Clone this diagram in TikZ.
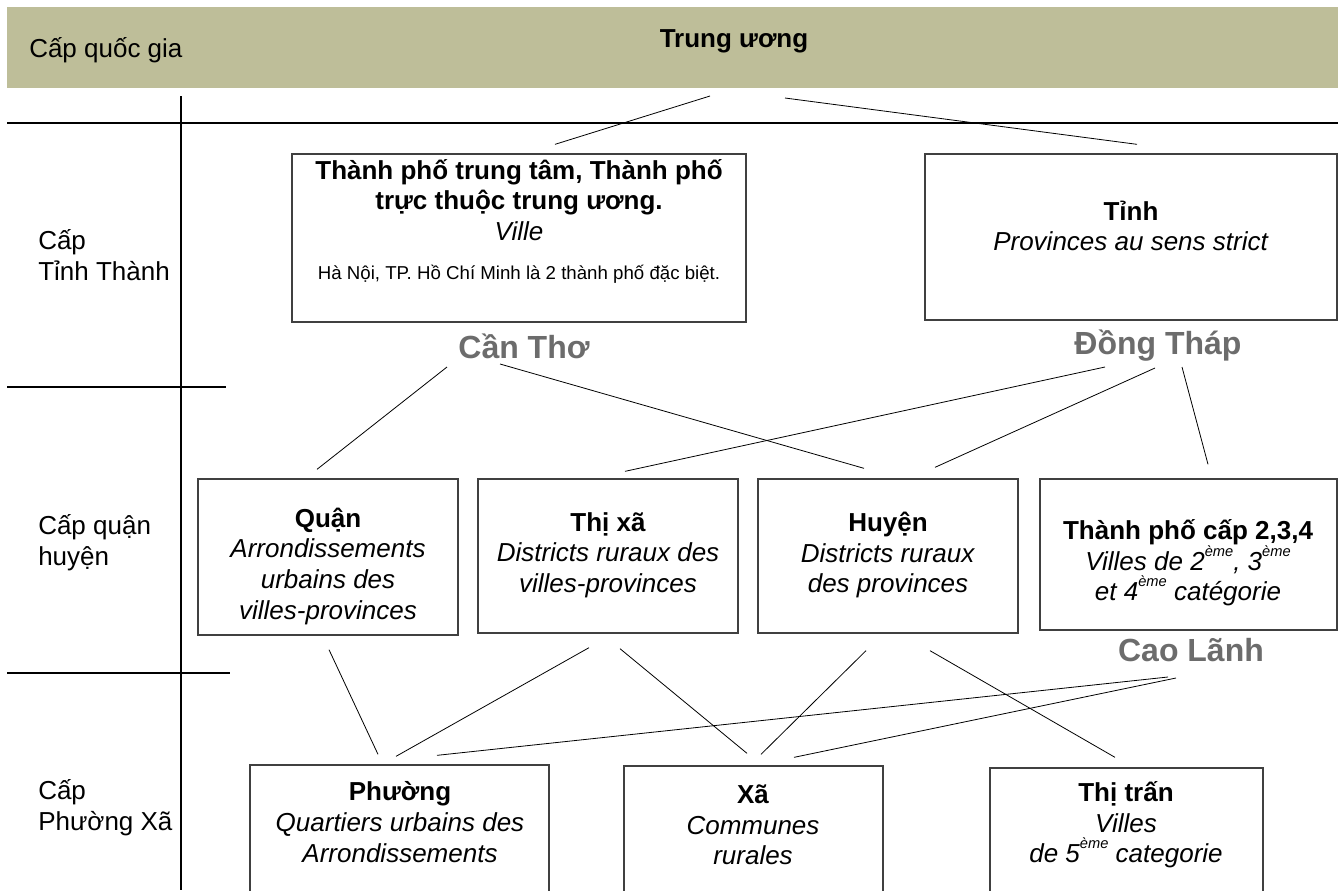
\documentclass[tikz,border=0pt]{standalone}
\usepackage{fontspec}
\setmainfont{Liberation Sans}
\usetikzlibrary{fit,calc}

\definecolor{band}{RGB}{190,190,153}
\definecolor{cityname}{RGB}{108,108,108}
\newcommand{\eme}{\raisebox{0.55em}{\fontsize{11}{11}\selectfont ème}}

\tikzset{
    lvl/.style={font=\fontsize{19.5}{23}\selectfont, align=left, anchor=west, inner sep=0pt},
    txt/.style={font=\fontsize{19.5}{23}\selectfont, align=center, inner sep=0pt},
    admin/.style={draw=black!75, line width=1pt, inner sep=0pt},
    city/.style={font=\fontsize{24}{28}\selectfont\bfseries, text=cityname, inner sep=0pt},
    link/.style={draw, line width=0.6pt},
    divider/.style={line width=1.6pt}
}

\begin{document}
\begin{tikzpicture}[x=0.75pt,y=-0.75pt]
        \useasboundingbox (0,0) rectangle (1338,890);
        \clip (0,0) rectangle (1338,890);
        % bandeau
        \node[fill=band, inner sep=0pt, fit={(7,7) (1338,88)}] (hdr) {};
        \node[lvl] (lv0) at (29,50) {Cấp quốc gia};
        \node[txt] (tu) at (734,41) {\textbf{Trung ương}};
        % lignes
        \draw[divider] (181,96) -- (181,890);
        \draw[divider] (7,123) -- (1338,123);
        \draw[divider] (7,387) -- (226,387);
        \draw[divider] (7,673) -- (230,673);
        % niveaux
        \node[lvl] (lv1) at (38,255) {Cấp\\Tỉnh Thành};
        \node[lvl] (lv2) at (38,543) {Cấp quận\\huyện};
        \node[lvl] (lv3) at (38,808) {Cấp\\Phường Xã};
        % cadres
        \node[admin, fit={(292,154) (746,322)}] (tp) {};
        \node[admin, fit={(925,154) (1337,320)}] (tinh) {};
        \node[admin, fit={(198,479) (458,635)}] (quan) {};
        \node[admin, fit={(478,479) (738,633)}] (tx) {};
        \node[admin, fit={(758,479) (1018,633)}] (hx) {};
        \node[admin, fit={(1040,479) (1337,630)}] (tpc) {};
        \node[admin, fit={(250,765) (549,900)}] (ph) {};
        \node[admin, fit={(624,766) (883,900)}] (xa) {};
        \node[admin, fit={(990,768) (1263,900)}] (tt) {};
        % textes
        \node[txt] (tp-t) at (519,221) {\textbf{Thành phố trung tâm, Thành phố}\\
            \textbf{trực thuộc trung ương.}\\ \textit{Ville}\\[6pt]
            {\fontsize{14}{17}\selectfont Hà Nội, TP. Hồ Chí Minh là 2 thành phố đặc biệt.}};
        \node[txt] (tinh-t) at (1131,226) {\textbf{Tỉnh}\\ \textit{Provinces au sens strict}};
        \node[txt] (quan-t) at (328,566) {\textbf{Quận}\\ \textit{Arrondissements}\\
            \textit{urbains des}\\ \textit{villes-provinces}};
        \node[txt] (tx-t) at (608,555) {\textbf{Thị xã}\\ \textit{Districts ruraux des}\\
            \textit{villes-provinces}};
        \node[txt] (hx-t) at (888,555) {\textbf{Huyện}\\ \textit{Districts ruraux}\\
            \textit{des provinces}};
        \node[txt] (tpc-t) at (1188,563) {\textbf{Thành phố cấp 2,3,4}\\
            \textit{Villes de 2\eme, 3\eme}\\
            \textit{et 4\eme\ catégorie}};
        \node[txt] (ph-t) at (400,822) {\textbf{Phường}\\ \textit{Quartiers urbains des}\\
            \textit{Arrondissements}};
        \node[txt] (xa-t) at (753,825) {\textbf{Xã}\\ \textit{Communes}\\ \textit{rurales}};
        \node[txt] (tt-t) at (1126,825) {\textbf{Thị trấn}\\ \textit{Villes}\\
            \textit{de 5\eme\ categorie}};
        % exemples
        \node[city] (ct) at (524,346) {Cần Thơ};
        \node[city] (dt) at (1158,346) {Đồng Tháp};
        \node[city] (cl) at (1191,650) {Cao Lãnh};
        % liaisons
        \draw[link] ($(tu)+(-24,55)$) -- ($(tp.north)+(36,-9)$);
        \draw[link] ($(tu)+(51,57)$) -- ($(tinh.north)+(6,-9)$);
        \draw[link] ($(ct)+(-77,21)$) -- ($(quan.north)+(-11,-9)$);
        \draw[link] ($(ct)+(-24,18)$) -- ($(hx.north)+(-24,-10)$);
        \draw[link] ($(dt)+(-53,21)$) -- ($(tx.north)+(17,-7)$);
        \draw[link] ($(dt)+(-3,22)$) -- ($(hx.north)+(47,-11)$);
        \draw[link] ($(dt)+(24,21)$) -- ($(tpc.north)+(19.5,-14)$);
        \draw[link] ($(quan.south)+(1,14)$) -- ($(ph.north)+(-21.5,-10)$);
        \draw[link] ($(tx.south)+(-19,14)$) -- ($(ph.north)+(-3.5,-8)$);
        \draw[link] ($(tx.south)+(12,15)$) -- ($(xa.north)+(-6.5,-12)$);
        \draw[link] ($(hx.south)+(-22,17)$) -- ($(xa.north)+(7.5,-11)$);
        \draw[link] ($(hx.south)+(42,17)$) -- ($(tt.north)+(-11.5,-10)$);
        \draw[link] ($(cl)+(-23,27)$) -- ($(ph.north)+(37.5,-9)$);
        \draw[link] ($(cl)+(-15,28)$) -- ($(xa.north)+(40.5,-8)$);
\end{tikzpicture}
\end{document}
